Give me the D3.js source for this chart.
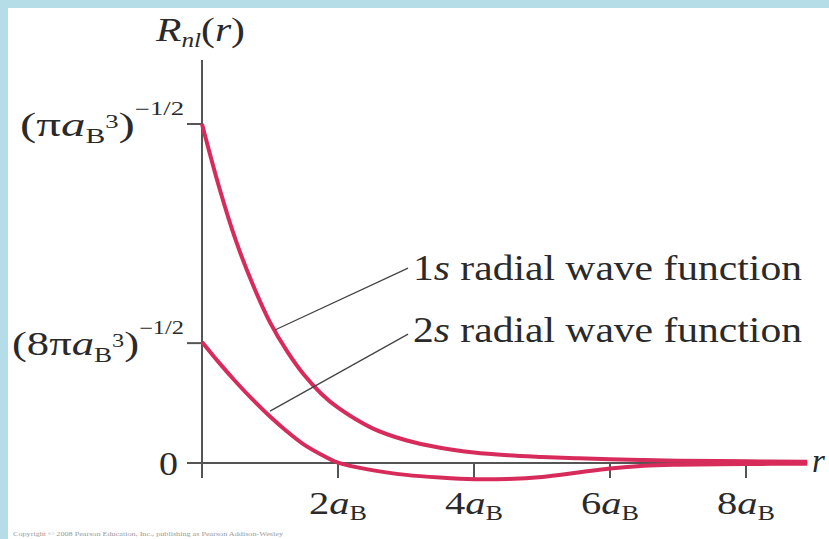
<!DOCTYPE html>
<html>
<head>
<meta charset="utf-8">
<script src="https://cdn.jsdelivr.net/npm/d3@7"></script>
<style>
  html, body { margin: 0; padding: 0; background: #ffffff; }
  svg { display: block; }
  text { font-family: "Liberation Serif", "DejaVu Serif", serif; fill: #2a2a2a; }
</style>
</head>
<body>
<svg id="chart" width="829" height="539"></svg>
<script>
// Radius in units of the Bohr radius a_B
const radius = [0, 0.25, 0.5, 0.75, 1, 1.25, 1.5, 1.75, 2, 2.5, 3, 3.5, 4, 4.5, 5, 5.5, 6, 6.5, 7, 8, 8.9];
// R_nl(r) in units of (π a_B^3)^-1/2
const wave1s = [1.0, 0.815, 0.655, 0.525, 0.415, 0.33, 0.26, 0.205, 0.163, 0.103, 0.067, 0.045, 0.031, 0.023, 0.018, 0.014, 0.011, 0.009, 0.007, 0.005, 0.004];
const wave2s = [0.357, 0.296, 0.239, 0.186, 0.137, 0.093, 0.054, 0.025, 0.001, -0.021, -0.035, -0.043, -0.048, -0.047, -0.041, -0.029, -0.016, -0.008, -0.005, -0.003, -0.002];
// Tick positions along r (multiples of a_B)
const xTicks = [2, 4, 6, 8];
// Y tick values and the prefix inside each label's bracket
const yTicks = [
  { v: 1.0, pre: "(π", len: 164 },
  { v: 0.3536, pre: "(8π", len: 172 }
];
const seriesLabels = ["1s radial wave function", "2s radial wave function"];

const svg = d3.select("#chart");
const W = 829, H = 539;

// Page frame: light blue band on top and left
svg.append("rect").attr("x", 0).attr("y", 0).attr("width", W).attr("height", H).attr("fill", "#ffffff");
svg.append("rect").attr("x", 0).attr("y", 0).attr("width", W).attr("height", 8).attr("fill", "#b5dde8");
svg.append("rect").attr("x", 0).attr("y", 0).attr("width", 8).attr("height", H).attr("fill", "#b5dde8");

const x = d3.scaleLinear().domain([0, 1]).range([202, 270]);
const y = d3.scaleLinear().domain([0, 1]).range([463, 124]);

const axisColor = "#555";
const g = svg.append("g");

// Vertical axis
g.append("line").attr("x1", x(0)).attr("x2", x(0)).attr("y1", 60).attr("y2", 478)
  .attr("stroke", axisColor).attr("stroke-width", 2);
// Horizontal axis
g.append("line").attr("x1", 187).attr("x2", x(8.9)).attr("y1", y(0)).attr("y2", y(0))
  .attr("stroke", axisColor).attr("stroke-width", 2);

// Y ticks (pointing left)
[0, ...yTicks.map(d => d.v)].forEach(v => {
  g.append("line").attr("x1", 187).attr("x2", x(0)).attr("y1", y(v)).attr("y2", y(v))
    .attr("stroke", axisColor).attr("stroke-width", 2);
});
// X ticks (pointing down)
xTicks.forEach(t => {
  g.append("line").attr("x1", x(t)).attr("x2", x(t)).attr("y1", y(0)).attr("y2", y(0) + 15)
    .attr("stroke", axisColor).attr("stroke-width", 2);
});

const MAIN = 33, SUB = 20, SUP = 18;

// Y tick labels: (π a_B^3)^-1/2 and (8π a_B^3)^-1/2
yTicks.forEach(d => {
  const t = g.append("text").attr("x", 184).attr("y", y(d.v) + 12)
    .attr("text-anchor", "end").attr("font-size", MAIN)
    .attr("textLength", d.len).attr("lengthAdjust", "spacingAndGlyphs");
  t.append("tspan").text(d.pre);
  t.append("tspan").attr("font-style", "italic").text("a");
  t.append("tspan").attr("font-size", SUB).attr("dy", 7).text("B");
  t.append("tspan").attr("font-size", SUP).attr("dy", -15).text("3");
  t.append("tspan").attr("font-size", MAIN).attr("dy", 8).text(")");
  t.append("tspan").attr("font-size", SUP).attr("dy", -21).text("−1/2");
});
g.append("text").attr("x", 178).attr("y", y(0) + 12).attr("text-anchor", "end")
  .attr("font-size", MAIN).attr("textLength", 19).attr("lengthAdjust", "spacingAndGlyphs").text("0");

// X tick labels: 2a_B ... 8a_B
xTicks.forEach(tk => {
  const t = g.append("text").attr("x", x(tk)).attr("y", 514).attr("text-anchor", "middle")
    .attr("font-size", 31).attr("textLength", 58).attr("lengthAdjust", "spacingAndGlyphs");
  t.append("tspan").text(tk);
  t.append("tspan").attr("font-style", "italic").text("a");
  t.append("tspan").attr("font-size", SUB).attr("dy", 6).text("B");
});

// Axis titles
const yt = g.append("text").attr("x", 156).attr("y", 41).attr("font-size", MAIN)
  .attr("textLength", 89).attr("lengthAdjust", "spacingAndGlyphs");
yt.append("tspan").attr("font-style", "italic").text("R");
yt.append("tspan").attr("font-style", "italic").attr("font-size", SUB).attr("dy", 6).text("nl");
yt.append("tspan").attr("font-size", MAIN).attr("dy", -6).text("(");
yt.append("tspan").attr("font-style", "italic").text("r");
yt.append("tspan").text(")");
g.append("text").attr("x", 812).attr("y", 472).attr("font-size", MAIN)
  .attr("font-style", "italic").text("r");

// Wave function curves
const line = d3.line().x(d => x(d[0])).y(d => y(d[1])).curve(d3.curveCatmullRom.alpha(0.5));
const curveColor = "#d72b5b";
[wave2s, wave1s].forEach(vals => {
  g.append("path").datum(radius.map((r, i) => [r, vals[i]]))
    .attr("d", line).attr("fill", "none").attr("stroke", curveColor)
    .attr("stroke-width", 4).attr("stroke-linecap", "butt");
});

// Leader lines and series labels
const leaders = [
  { from: [1.08, 0.393], to: [3.03, 0.575], ty: 280 },
  { from: [1.0, 0.153], to: [3.03, 0.380], ty: 342 }
];
leaders.forEach((d, i) => {
  g.append("line").attr("x1", x(d.from[0])).attr("y1", y(d.from[1]))
    .attr("x2", x(d.to[0])).attr("y2", y(d.to[1]))
    .attr("stroke", "#444").attr("stroke-width", 1.3);
  const label = seriesLabels[i];
  const t = g.append("text").attr("x", 413).attr("y", d.ty).attr("font-size", 35)
    .attr("textLength", 389).attr("lengthAdjust", "spacingAndGlyphs");
  t.append("tspan").text(label.slice(0, 1));
  t.append("tspan").attr("font-style", "italic").text(label.slice(1, 2));
  t.append("tspan").text(label.slice(2));
});

// Publisher credit line
svg.append("text").attr("x", 13).attr("y", 536).attr("font-size", 5.5)
  .attr("font-family", "Liberation Sans, sans-serif").style("fill", "#9a9a9a")
  .attr("textLength", 270).attr("lengthAdjust", "spacingAndGlyphs")
  .text("Copyright © 2008 Pearson Education, Inc., publishing as Pearson Addison-Wesley");
</script>
</body>
</html>
